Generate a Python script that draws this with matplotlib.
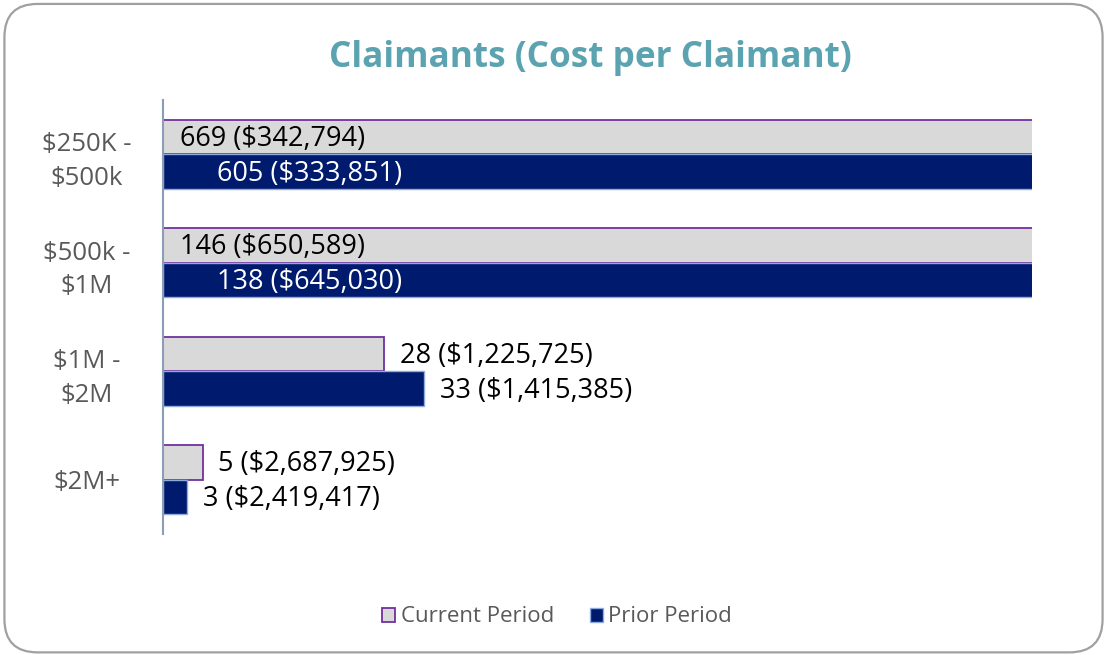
import matplotlib.pyplot as plt
from matplotlib.patches import FancyBboxPatch
import numpy as np

plt.rcParams['font.family'] = ['Open Sans', 'DejaVu Sans']

# data
bands = ['$250K -\n$500k', '$500k -\n$1M', '$1M -\n$2M', '$2M+']
current_n = [669, 146, 28, 5]
current_cost = [342794, 650589, 1225725, 2687925]
prior_n = [605, 138, 33, 3]
prior_cost = [333851, 645030, 1415385, 2419417]

x_max = 110
cur_fill = '#D9D9D9'
cur_edge = '#7030A0'
prior_fill = '#001A6E'
prior_edge = '#8FAADC'

fig = plt.figure(figsize=(11.07, 6.55), dpi=100)
border = FancyBboxPatch((0.004, 0.004), 0.992, 0.99, boxstyle='round,pad=0,rounding_size=0.03',
                        transform=fig.transFigure, facecolor='white',
                        edgecolor='#A0A0A0', linewidth=1.6, mutation_aspect=1107/655, zorder=-1)
fig.patches.append(border)

ax = fig.add_axes([163/1107, 1 - 534/655, (1032-163)/1107, 434/655])
ax.patch.set_alpha(0)
y = np.arange(len(bands))
h = 0.32

ax.barh(y - h/2, current_n, height=h, color=cur_fill, edgecolor=cur_edge, linewidth=1.3,
        label='Current Period')
ax.barh(y + h/2, prior_n, height=h, color=prior_fill, edgecolor=prior_edge, linewidth=1,
        label='Prior Period')

ax.set_xlim(0, x_max)
ax.set_ylim(len(bands) - 0.5, -0.5)

# value labels: inside if the bar runs past the axis, else after the end
for i in range(len(bands)):
    for n, cost, yy, col_in, shift in [(current_n[i], current_cost[i], y[i] - h/2, 'black', 17),
                                       (prior_n[i], prior_cost[i], y[i] + h/2, 'white', 54)]:
        txt = f'{n} (${cost:,})'
        if n > x_max:
            ax.annotate(txt, (0, yy), xytext=(shift, -2), textcoords='offset pixels',
                        va='center', ha='left', fontsize=19.5, color=col_in)
        else:
            ax.annotate(txt, (n, yy), xytext=(16, -2), textcoords='offset pixels',
                        va='center', ha='left', fontsize=19.5, color='black')

ax.set_yticks(y)
ax.set_yticklabels(bands, fontsize=18.5, color='#595959', linespacing=1.45)
ax.set_xticks([])
for s in ['top', 'right', 'bottom']:
    ax.spines[s].set_visible(False)
ax.spines['left'].set_color('#8C9DBA')
ax.spines['left'].set_linewidth(1.5)
for lab in ax.get_yticklabels():
    lab.set_horizontalalignment('center')
ax.tick_params(axis='y', length=0, pad=55)

fig.text(590/1107, 1 - 58/655, 'Claimants (Cost per Claimant)', ha='center', va='center',
         fontsize=25.3, fontweight='bold', color='#5BA3B0')

fig.legend(loc='center', bbox_to_anchor=(557/1107, 1 - 617/655), ncol=2, frameon=False,
           fontsize=16, labelcolor='#595959', handlelength=0.6, handleheight=0.6,
           handletextpad=0.25, columnspacing=1.6)

fig.savefig('out.png', dpi=100)
